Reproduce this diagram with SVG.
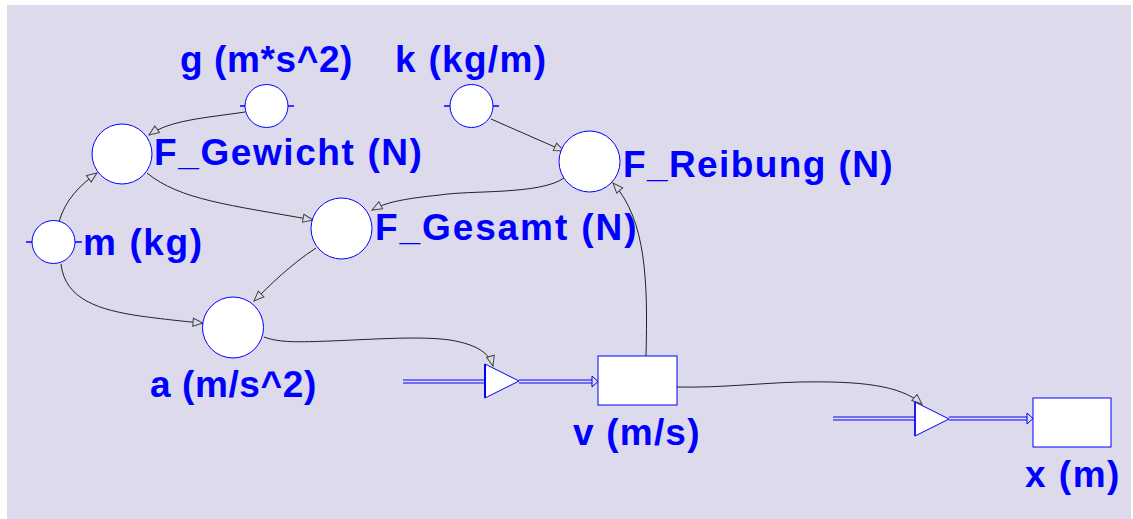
<svg xmlns="http://www.w3.org/2000/svg" width="1133" height="519" viewBox="0 0 1133 519">
<defs>
<style>
.lbl{font-family:"Liberation Sans",Arial,sans-serif;font-weight:bold;font-size:37px;fill:#0000FF}
.node{fill:#FFFFFF;stroke:#0000FF;stroke-width:1}
.tick{stroke:#0000FF;stroke-width:1.5}
.conn{fill:none;stroke:#222;stroke-width:1}
.pipe{fill:none;stroke:#0000FF;stroke-width:1}
.flowhead{fill:#DDDAEC;stroke:#0000FF;stroke-width:1}
</style>
<marker id="arr" viewBox="0 0 12 10" refX="11" refY="5" markerWidth="12" markerHeight="10" markerUnits="userSpaceOnUse" orient="auto">
<path d="M1,1 L11,5 L1,9 Z" fill="#DDDAEC" stroke="#444" stroke-width="1"/>
</marker>
</defs>
<rect x="0" y="0" width="1133" height="519" fill="#FFFFFF"/>
<rect x="7" y="5" width="1124" height="514" fill="#DDDAEC"/>

<g id="connectors">
<path class="conn" d="M245,112 C205,118 170,120 149,135" marker-end="url(#arr)"/>
<path class="conn" d="M59,222 C65,200 80,185 97,173" marker-end="url(#arr)"/>
<path class="conn" d="M147,173 C180,200 230,205 313,220" marker-end="url(#arr)"/>
<path class="conn" d="M491,119 C515,130 540,140 564,151" marker-end="url(#arr)"/>
<path class="conn" d="M564,178 C540,195 470,190 440,195 C400,199 385,203 372,210" marker-end="url(#arr)"/>
<path class="conn" d="M646,356 C648,280 646,220 613,183" marker-end="url(#arr)" stroke="#555"/>
<path class="conn" d="M61,264 C65,300 100,310 140,316 C170,320 190,322 203,323" marker-end="url(#arr)"/>
<path class="conn" d="M316,248 C290,265 270,285 254,301" marker-end="url(#arr)" stroke="#555"/>
<path class="conn" d="M264,337 C280,343 300,342 330,341 C380,339 420,336 450,340 C480,345 490,355 493,366" marker-end="url(#arr)"/>
<path class="conn" d="M677,387 C720,388 760,383 800,382 C860,381 900,385 922,404" marker-end="url(#arr)"/>
</g>

<g id="flow-v">
<line class="pipe" x1="403" y1="380" x2="485" y2="380"/>
<line class="pipe" x1="403" y1="383" x2="485" y2="383"/>
<line class="pipe" x1="519" y1="380" x2="593" y2="380"/>
<line class="pipe" x1="519" y1="383" x2="593" y2="383"/>
<path class="flowhead" d="M592,376 L598,381.5 L592,387 Z"/>
</g>
<g id="valve-v">
<polygon class="node" points="485,364 519,381 485,398"/>
<line x1="485" y1="364" x2="485" y2="398" stroke="#0000FF" stroke-width="2"/>
</g>

<g id="flow-x">
<line class="pipe" x1="833" y1="417" x2="915" y2="417"/>
<line class="pipe" x1="833" y1="420" x2="915" y2="420"/>
<line class="pipe" x1="949" y1="417" x2="1028" y2="417"/>
<line class="pipe" x1="949" y1="420" x2="1028" y2="420"/>
<path class="flowhead" d="M1027,413 L1033,418.5 L1027,424 Z"/>
</g>
<g id="valve-x">
<polygon class="node" points="915,402 949,419 915,436"/>
<line x1="915" y1="402" x2="915" y2="436" stroke="#0000FF" stroke-width="1.5"/>
</g>

<g id="g">
<line class="tick" x1="240" y1="106" x2="245" y2="106"/>
<line class="tick" x1="288" y1="106" x2="294" y2="106"/>
<circle class="node" cx="266.5" cy="106" r="21.5"/>
<text class="lbl" x="180" y="72" letter-spacing="0.6">g (m*s^2)</text>
</g>
<g id="k">
<line class="tick" x1="444" y1="106" x2="450" y2="106"/>
<line class="tick" x1="493" y1="106" x2="499" y2="106"/>
<circle class="node" cx="471.5" cy="106" r="21.5"/>
<text class="lbl" x="395" y="72" letter-spacing="1.3">k (kg/m)</text>
</g>
<g id="m">
<line class="tick" x1="26" y1="242" x2="32" y2="242"/>
<line class="tick" x1="75" y1="242" x2="82" y2="242"/>
<circle class="node" cx="53.5" cy="242" r="21.5"/>
<text class="lbl" x="83" y="255" letter-spacing="1.6">m (kg)</text>
</g>
<g id="F_Gewicht">
<circle class="node" cx="122" cy="154" r="30"/>
<text class="lbl" x="154" y="165" letter-spacing="1.6">F_Gewicht (N)</text>
</g>
<g id="F_Gesamt">
<circle class="node" cx="341.5" cy="228.5" r="30.5"/>
<text class="lbl" x="375" y="240" letter-spacing="1.9">F_Gesamt (N)</text>
</g>
<g id="F_Reibung">
<circle class="node" cx="589.5" cy="161.5" r="30.5"/>
<text class="lbl" x="623" y="177" letter-spacing="1.4">F_Reibung (N)</text>
</g>
<g id="a">
<circle class="node" cx="233" cy="327.5" r="30.5"/>
<text class="lbl" x="150" y="397" letter-spacing="0.6">a (m/s^2)</text>
</g>
<g id="v">
<rect class="node" x="598" y="356" width="79" height="49"/>
<text class="lbl" x="573" y="445" letter-spacing="1.2">v (m/s)</text>
</g>
<g id="x">
<rect class="node" x="1033" y="398" width="78" height="49"/>
<text class="lbl" x="1025" y="487" letter-spacing="1.5">x (m)</text>
</g>
</svg>
